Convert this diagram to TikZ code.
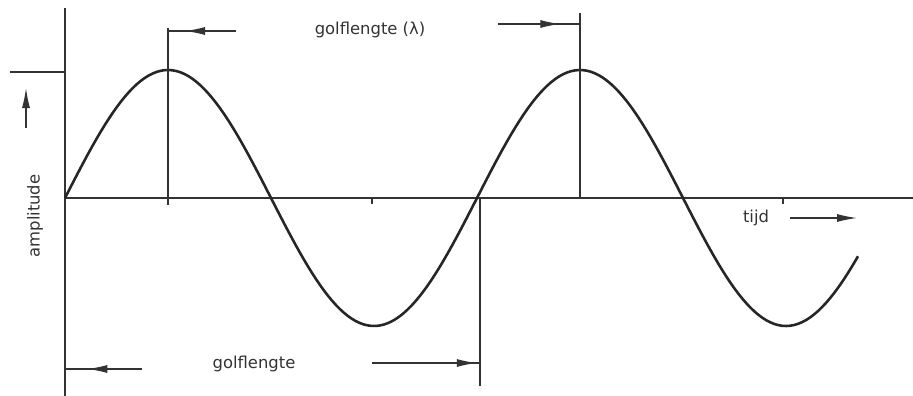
\documentclass[tikz,border=0pt]{standalone}
\usepackage{fontspec}
\setmainfont{DejaVu Sans}
\usetikzlibrary{arrows.meta,decorations.markings}

\begin{document}
\begin{tikzpicture}[x=0.03cm,y=-0.03cm,
    thinline/.style={draw=black!80,line width=1.1pt},
    wave/.style={draw=black!85,line width=2.2pt},
    txt/.style={text=black!80,font=\fontsize{14}{16}\selectfont,inner sep=0pt},
    arrow/.style={thinline,-{Latex[length=6mm,width=2.4mm]}},
    tipat/.style={thinline,postaction={decorate},
      decoration={markings,mark=at position #1 with {\arrow{Latex[length=6mm,width=2.4mm]}}}}]

\useasboundingbox (0,0) rectangle (913,396);

% assen
\coordinate (ytop) at (65,8);
\coordinate (ybot) at (65,396);
\coordinate (o) at (65,198);
\coordinate (xend) at (913,198);
\draw[thinline] (ytop) -- (ybot);
\draw[thinline] (o) -- (xend);

% golf
\draw[wave] plot[domain=65:858,samples=200] (\x,{198-128*sin((\x-65)/412*360)});

% hulplijnen bij toppen en nuldoorgang
\coordinate (top1) at (168,28);
\coordinate (top1b) at (168,205);
\coordinate (top2) at (580,13);
\coordinate (top2b) at (580,198);
\coordinate (nul) at (480,198);
\coordinate (nulb) at (480,386);
\draw[thinline] (top1) -- (top1b);
\draw[thinline] (top2) -- (top2b);
\draw[thinline] (nul) -- (nulb);
\coordinate (t1) at (372,198);
\coordinate (t1b) at (372,204);
\coordinate (t2) at (783,198);
\coordinate (t2b) at (783,204);
\draw[thinline] (t1) -- (t1b);
\draw[thinline] (t2) -- (t2b);

% amplitude
\coordinate (amp) at (10,72);
\coordinate (ampr) at (65,72);
\draw[thinline] (amp) -- (ampr);
\coordinate (aa) at (26,128);
\coordinate (ab) at (26,88);
\draw[arrow] (aa) -- (ab);
\node[txt,rotate=90] (amplitude) at (35,216) {amplitude};

% golflengte boven
\coordinate (g1) at (236,31);
\coordinate (g1e) at (168,31);
\draw[tipat=0.75] (g1) -- (g1e);
\node[txt] (lambda) at (370,30) {golflengte (λ)};
\coordinate (g2) at (498,24);
\coordinate (g2e) at (580,24);
\draw[tipat=0.76] (g2) -- (g2e);

% golflengte onder
\coordinate (h1) at (142,369);
\coordinate (h1e) at (66,369);
\draw[tipat=0.72] (h1) -- (h1e);
\node[txt] (golf) at (254,364) {golflengte};
\coordinate (h2) at (372,363);
\coordinate (h2e) at (480,363);
\draw[tipat=0.97] (h2) -- (h2e);

% tijd
\node[txt] (tijd) at (756,218) {tijd};
\coordinate (ta) at (790,218);
\coordinate (tb) at (857,218);
\draw[arrow] (ta) -- (tb);

\end{tikzpicture}
\end{document}
